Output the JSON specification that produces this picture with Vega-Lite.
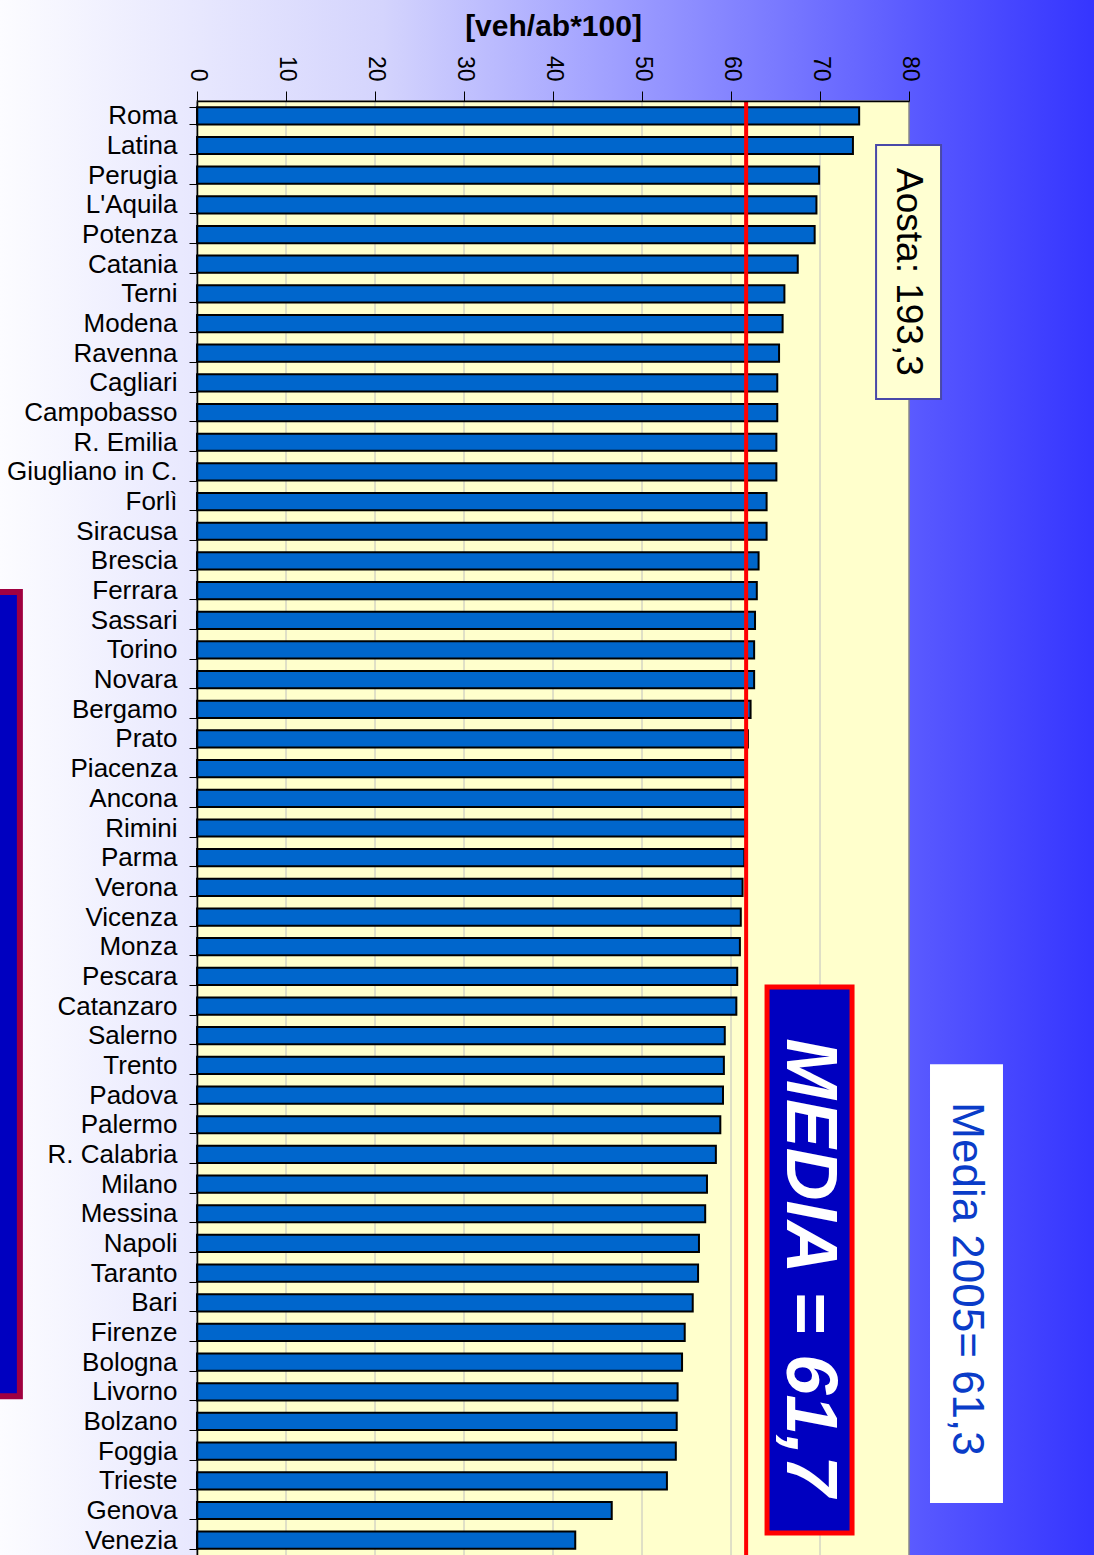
{
  "$schema": "https://vega.github.io/schema/vega-lite/v6.json",
  "autosize": {"type": "none"},
  "padding": {"left": 197, "top": 101, "right": 185, "bottom": 0},
  "width": 712,
  "height": 1454,
  "background": "#f0f0ff",
  "view": {"stroke": null},
  "config": {"font": "Liberation Sans"},
  "data": {"values": [
    {"city": "Roma", "v": 74.4},
    {"city": "Latina", "v": 73.7},
    {"city": "Perugia", "v": 69.9},
    {"city": "L'Aquila", "v": 69.6},
    {"city": "Potenza", "v": 69.4},
    {"city": "Catania", "v": 67.5},
    {"city": "Terni", "v": 66.0},
    {"city": "Modena", "v": 65.8},
    {"city": "Ravenna", "v": 65.4},
    {"city": "Cagliari", "v": 65.2},
    {"city": "Campobasso", "v": 65.2},
    {"city": "R. Emilia", "v": 65.1},
    {"city": "Giugliano in C.", "v": 65.1},
    {"city": "Forlì", "v": 64.0},
    {"city": "Siracusa", "v": 64.0},
    {"city": "Brescia", "v": 63.1},
    {"city": "Ferrara", "v": 62.9},
    {"city": "Sassari", "v": 62.7},
    {"city": "Torino", "v": 62.6},
    {"city": "Novara", "v": 62.6},
    {"city": "Bergamo", "v": 62.2},
    {"city": "Prato", "v": 61.9},
    {"city": "Piacenza", "v": 61.7},
    {"city": "Ancona", "v": 61.6},
    {"city": "Rimini", "v": 61.6},
    {"city": "Parma", "v": 61.5},
    {"city": "Verona", "v": 61.3},
    {"city": "Vicenza", "v": 61.1},
    {"city": "Monza", "v": 61.0},
    {"city": "Pescara", "v": 60.7},
    {"city": "Catanzaro", "v": 60.6},
    {"city": "Salerno", "v": 59.3},
    {"city": "Trento", "v": 59.2},
    {"city": "Padova", "v": 59.1},
    {"city": "Palermo", "v": 58.8},
    {"city": "R. Calabria", "v": 58.3},
    {"city": "Milano", "v": 57.3},
    {"city": "Messina", "v": 57.1},
    {"city": "Napoli", "v": 56.4},
    {"city": "Taranto", "v": 56.3},
    {"city": "Bari", "v": 55.7},
    {"city": "Firenze", "v": 54.8},
    {"city": "Bologna", "v": 54.5},
    {"city": "Livorno", "v": 54.0},
    {"city": "Bolzano", "v": 53.9},
    {"city": "Foggia", "v": 53.8},
    {"city": "Trieste", "v": 52.8},
    {"city": "Genova", "v": 46.6},
    {"city": "Venezia", "v": 42.5}
  ]},
  "resolve": {"scale": {"y": "independent"}, "axis": {"x": "independent", "y": "independent"}},
  "layer": [
    {
      "data": {"values": [{}]},
      "mark": {"type": "rect", "fill": {"gradient": "linear", "x1": 0, "y1": 0, "x2": 1, "y2": 0, "stops": [
        {"offset": 0, "color": "#fcfcff"},
        {"offset": 0.35, "color": "#d4d4fd"},
        {"offset": 0.55, "color": "#a2a2ff"},
        {"offset": 0.7, "color": "#7c7cff"},
        {"offset": 0.85, "color": "#5656ff"},
        {"offset": 1, "color": "#3535ff"}
      ]}},
      "encoding": {
        "x": {"datum": -22.2, "type": "quantitative", "scale": {"domain": [0, 80], "nice": false}, "axis": null},
        "x2": {"datum": 100.8},
        "y": {"datum": -3.5, "type": "quantitative", "scale": {"domain": [49, 0], "nice": false, "zero": false}, "axis": null},
        "y2": {"datum": 49.2}
      }
    },
    {
      "data": {"values": [{}]},
      "mark": {"type": "rect", "fill": "#ffffcc", "stroke": "#888888", "strokeWidth": 1.5},
      "encoding": {
        "x": {"datum": 0, "type": "quantitative", "scale": {"domain": [0, 80], "nice": false}, "axis": null},
        "x2": {"datum": 80},
        "y": {"datum": 0, "type": "quantitative", "scale": {"domain": [49, 0], "nice": false, "zero": false}, "axis": null},
        "y2": {"datum": 49.5}
      }
    },
    {
      "data": {"values": [{"g": 10}, {"g": 20}, {"g": 30}, {"g": 40}, {"g": 50}, {"g": 60}, {"g": 70}]},
      "mark": {"type": "rule", "color": "#c0c0c0", "strokeWidth": 1},
      "encoding": {
        "x": {"field": "g", "type": "quantitative", "scale": {"domain": [0, 80], "nice": false}, "axis": null}
      }
    },
    {
      "mark": {"type": "bar", "fill": "#0066cc", "stroke": "#000000", "strokeWidth": 2},
      "encoding": {
        "y": {"field": "city", "type": "nominal", "sort": null,
          "scale": {"paddingInner": 0.42, "paddingOuter": 0.21},
          "axis": {"title": null, "orient": "left", "labelFontSize": 26, "labelColor": "#000000", "labelPadding": 12,
            "labelLimit": 300, "tickBand": "extent", "tickSize": 8, "tickColor": "#000000", "domainColor": "#000000",
            "domainWidth": 1.5, "zindex": 1}},
        "x": {"field": "v", "type": "quantitative", "scale": {"domain": [0, 80], "nice": false},
          "axis": {"orient": "top", "title": "[veh/ab*100]", "titleFont": "Liberation Sans", "titleFontWeight": "bold",
            "titleFontSize": 30, "titleColor": "#000000", "titlePadding": 14,
            "values": [0, 10, 20, 30, 40, 50, 60, 70, 80], "labelAngle": 90, "labelAlign": "right", "labelBaseline": "middle",
            "labelFontSize": 23, "labelColor": "#000000", "labelPadding": 10, "tickSize": 10, "tickColor": "#000000",
            "domainColor": "#000000", "domainWidth": 1.5, "grid": false, "zindex": 1}}
      }
    },
    {
      "data": {"values": [{"media": 61.7}]},
      "mark": {"type": "rule", "color": "#ff0000", "strokeWidth": 4},
      "encoding": {
        "x": {"field": "media", "type": "quantitative", "scale": {"domain": [0, 80], "nice": false}, "axis": null}
      }
    },
    {
      "data": {"values": [{}]},
      "mark": {"type": "rect", "fill": "#0000c0", "stroke": "#ff0000", "strokeWidth": 5},
      "encoding": {
        "x": {"datum": 64.05, "type": "quantitative", "scale": {"domain": [0, 80], "nice": false}, "axis": null},
        "x2": {"datum": 73.6},
        "y": {"datum": 29.86, "type": "quantitative", "scale": {"domain": [49, 0], "nice": false, "zero": false}, "axis": null},
        "y2": {"datum": 48.26}
      }
    },
    {
      "data": {"values": [{"t": "MEDIA = 61,7"}]},
      "mark": {"type": "text", "angle": 90, "align": "center", "baseline": "middle", "fontSize": 73,
        "fontWeight": "bold", "fontStyle": "italic", "color": "#ffffff"},
      "encoding": {
        "text": {"field": "t"},
        "x": {"datum": 68.8, "type": "quantitative", "scale": {"domain": [0, 80], "nice": false}, "axis": null},
        "y": {"datum": 39.3, "type": "quantitative", "scale": {"domain": [49, 0], "nice": false, "zero": false}, "axis": null}
      }
    },
    {
      "data": {"values": [{}]},
      "mark": {"type": "rect", "fill": "#ffffff"},
      "encoding": {
        "x": {"datum": 82.36, "type": "quantitative", "scale": {"domain": [0, 80], "nice": false}, "axis": null},
        "x2": {"datum": 90.56},
        "y": {"datum": 32.46, "type": "quantitative", "scale": {"domain": [49, 0], "nice": false, "zero": false}, "axis": null},
        "y2": {"datum": 47.25}
      }
    },
    {
      "data": {"values": [{"t": "Media 2005= 61,3"}]},
      "mark": {"type": "text", "angle": 90, "align": "center", "baseline": "middle", "fontSize": 44, "color": "#0a3cc8"},
      "encoding": {
        "text": {"field": "t"},
        "x": {"datum": 86.4, "type": "quantitative", "scale": {"domain": [0, 80], "nice": false}, "axis": null},
        "y": {"datum": 39.7, "type": "quantitative", "scale": {"domain": [49, 0], "nice": false, "zero": false}, "axis": null}
      }
    },
    {
      "data": {"values": [{}]},
      "mark": {"type": "rect", "fill": "#ffffd2", "stroke": "#4848a8", "strokeWidth": 2},
      "encoding": {
        "x": {"datum": 76.3, "type": "quantitative", "scale": {"domain": [0, 80], "nice": false}, "axis": null},
        "x2": {"datum": 83.6},
        "y": {"datum": 1.48, "type": "quantitative", "scale": {"domain": [49, 0], "nice": false, "zero": false}, "axis": null},
        "y2": {"datum": 10.04}
      }
    },
    {
      "data": {"values": [{"t": "Aosta: 193,3"}]},
      "mark": {"type": "text", "angle": 90, "align": "center", "baseline": "middle", "fontSize": 37, "color": "#000000"},
      "encoding": {
        "text": {"field": "t"},
        "x": {"datum": 79.9, "type": "quantitative", "scale": {"domain": [0, 80], "nice": false}, "axis": null},
        "y": {"datum": 5.76, "type": "quantitative", "scale": {"domain": [49, 0], "nice": false, "zero": false}, "axis": null}
      }
    },
    {
      "data": {"values": [{}]},
      "mark": {"type": "rect", "fill": "#0000c0", "stroke": "#a00040", "strokeWidth": 6},
      "encoding": {
        "x": {"datum": -26, "type": "quantitative", "scale": {"domain": [0, 80], "nice": false}, "axis": null},
        "x2": {"datum": -19.9},
        "y": {"datum": 16.55, "type": "quantitative", "scale": {"domain": [49, 0], "nice": false, "zero": false}, "axis": null},
        "y2": {"datum": 43.65}
      }
    }
  ]
}
